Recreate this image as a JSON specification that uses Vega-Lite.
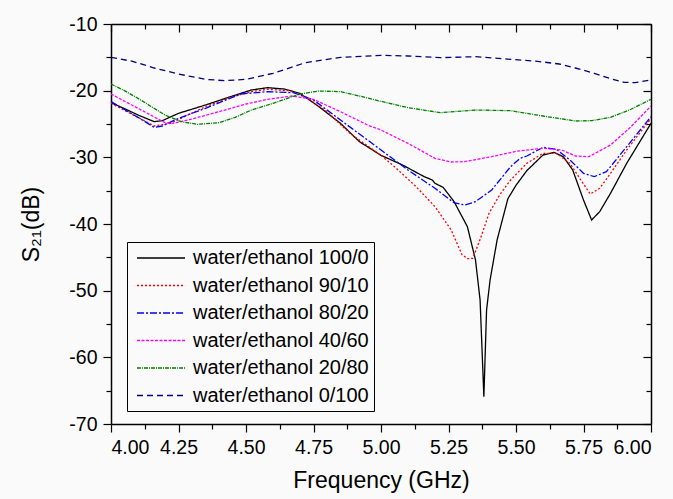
{
  "$schema": "https://vega.github.io/schema/vega-lite/v6.json",
  "autosize": {"type": "none"},
  "width": 540,
  "height": 400,
  "padding": {"left": 111, "top": 24, "right": 22, "bottom": 75},
  "background": "#fafafa",
  "config": {
    "font": "Liberation Sans",
    "view": {"stroke": null},
    "axis": {"grid": false, "domainColor": "#000000", "tickColor": "#000000", "labelColor": "#000000", "titleColor": "#000000", "domainWidth": 1.5, "tickWidth": 1.2, "labelFont": "Liberation Sans", "titleFont": "Liberation Sans", "titleFontWeight": "normal"}
  },
  "data": {"values": [
    {"s": "water/ethanol 100/0", "f": 4.00, "v": -21.8},
    {"s": "water/ethanol 100/0", "f": 4.05, "v": -22.7},
    {"s": "water/ethanol 100/0", "f": 4.10, "v": -23.65},
    {"s": "water/ethanol 100/0", "f": 4.16, "v": -24.65},
    {"s": "water/ethanol 100/0", "f": 4.19, "v": -24.5},
    {"s": "water/ethanol 100/0", "f": 4.25, "v": -23.4},
    {"s": "water/ethanol 100/0", "f": 4.35, "v": -22.15},
    {"s": "water/ethanol 100/0", "f": 4.45, "v": -20.8},
    {"s": "water/ethanol 100/0", "f": 4.52, "v": -19.9},
    {"s": "water/ethanol 100/0", "f": 4.58, "v": -19.55},
    {"s": "water/ethanol 100/0", "f": 4.64, "v": -19.75},
    {"s": "water/ethanol 100/0", "f": 4.70, "v": -20.4},
    {"s": "water/ethanol 100/0", "f": 4.77, "v": -22.4},
    {"s": "water/ethanol 100/0", "f": 4.85, "v": -24.9},
    {"s": "water/ethanol 100/0", "f": 4.92, "v": -27.65},
    {"s": "water/ethanol 100/0", "f": 5.00, "v": -29.7},
    {"s": "water/ethanol 100/0", "f": 5.08, "v": -31.15},
    {"s": "water/ethanol 100/0", "f": 5.16, "v": -32.9},
    {"s": "water/ethanol 100/0", "f": 5.19, "v": -33.4},
    {"s": "water/ethanol 100/0", "f": 5.20, "v": -33.9},
    {"s": "water/ethanol 100/0", "f": 5.23, "v": -34.5},
    {"s": "water/ethanol 100/0", "f": 5.27, "v": -36.6},
    {"s": "water/ethanol 100/0", "f": 5.32, "v": -40.4},
    {"s": "water/ethanol 100/0", "f": 5.35, "v": -45.4},
    {"s": "water/ethanol 100/0", "f": 5.367, "v": -51.4},
    {"s": "water/ethanol 100/0", "f": 5.381, "v": -65.9},
    {"s": "water/ethanol 100/0", "f": 5.391, "v": -52.9},
    {"s": "water/ethanol 100/0", "f": 5.404, "v": -48.4},
    {"s": "water/ethanol 100/0", "f": 5.43, "v": -42.4},
    {"s": "water/ethanol 100/0", "f": 5.47, "v": -36.2},
    {"s": "water/ethanol 100/0", "f": 5.50, "v": -34.2},
    {"s": "water/ethanol 100/0", "f": 5.54, "v": -32.0},
    {"s": "water/ethanol 100/0", "f": 5.60, "v": -29.65},
    {"s": "water/ethanol 100/0", "f": 5.64, "v": -29.25},
    {"s": "water/ethanol 100/0", "f": 5.675, "v": -29.9},
    {"s": "water/ethanol 100/0", "f": 5.71, "v": -31.9},
    {"s": "water/ethanol 100/0", "f": 5.75, "v": -36.4},
    {"s": "water/ethanol 100/0", "f": 5.78, "v": -39.4},
    {"s": "water/ethanol 100/0", "f": 5.81, "v": -38.15},
    {"s": "water/ethanol 100/0", "f": 5.85, "v": -35.4},
    {"s": "water/ethanol 100/0", "f": 5.91, "v": -30.9},
    {"s": "water/ethanol 100/0", "f": 6.00, "v": -24.9},

    {"s": "water/ethanol 90/10", "f": 4.00, "v": -21.9},
    {"s": "water/ethanol 90/10", "f": 4.10, "v": -24.0},
    {"s": "water/ethanol 90/10", "f": 4.16, "v": -25.3},
    {"s": "water/ethanol 90/10", "f": 4.22, "v": -24.9},
    {"s": "water/ethanol 90/10", "f": 4.35, "v": -22.4},
    {"s": "water/ethanol 90/10", "f": 4.45, "v": -20.9},
    {"s": "water/ethanol 90/10", "f": 4.52, "v": -20.15},
    {"s": "water/ethanol 90/10", "f": 4.58, "v": -19.8},
    {"s": "water/ethanol 90/10", "f": 4.66, "v": -20.0},
    {"s": "water/ethanol 90/10", "f": 4.72, "v": -20.9},
    {"s": "water/ethanol 90/10", "f": 4.80, "v": -23.15},
    {"s": "water/ethanol 90/10", "f": 4.885, "v": -26.4},
    {"s": "water/ethanol 90/10", "f": 5.00, "v": -29.7},
    {"s": "water/ethanol 90/10", "f": 5.05, "v": -31.4},
    {"s": "water/ethanol 90/10", "f": 5.13, "v": -34.4},
    {"s": "water/ethanol 90/10", "f": 5.20, "v": -37.4},
    {"s": "water/ethanol 90/10", "f": 5.26, "v": -40.9},
    {"s": "water/ethanol 90/10", "f": 5.30, "v": -44.6},
    {"s": "water/ethanol 90/10", "f": 5.32, "v": -45.2},
    {"s": "water/ethanol 90/10", "f": 5.34, "v": -45.15},
    {"s": "water/ethanol 90/10", "f": 5.37, "v": -42.0},
    {"s": "water/ethanol 90/10", "f": 5.40, "v": -38.4},
    {"s": "water/ethanol 90/10", "f": 5.44, "v": -35.6},
    {"s": "water/ethanol 90/10", "f": 5.48, "v": -33.4},
    {"s": "water/ethanol 90/10", "f": 5.54, "v": -30.9},
    {"s": "water/ethanol 90/10", "f": 5.60, "v": -29.4},
    {"s": "water/ethanol 90/10", "f": 5.65, "v": -29.4},
    {"s": "water/ethanol 90/10", "f": 5.70, "v": -30.9},
    {"s": "water/ethanol 90/10", "f": 5.74, "v": -33.4},
    {"s": "water/ethanol 90/10", "f": 5.775, "v": -35.5},
    {"s": "water/ethanol 90/10", "f": 5.81, "v": -34.65},
    {"s": "water/ethanol 90/10", "f": 5.85, "v": -32.4},
    {"s": "water/ethanol 90/10", "f": 5.91, "v": -28.9},
    {"s": "water/ethanol 90/10", "f": 6.00, "v": -24.15},

    {"s": "water/ethanol 80/20", "f": 4.00, "v": -21.65},
    {"s": "water/ethanol 80/20", "f": 4.10, "v": -24.0},
    {"s": "water/ethanol 80/20", "f": 4.16, "v": -25.5},
    {"s": "water/ethanol 80/20", "f": 4.19, "v": -25.3},
    {"s": "water/ethanol 80/20", "f": 4.25, "v": -24.15},
    {"s": "water/ethanol 80/20", "f": 4.35, "v": -22.65},
    {"s": "water/ethanol 80/20", "f": 4.48, "v": -20.5},
    {"s": "water/ethanol 80/20", "f": 4.58, "v": -20.15},
    {"s": "water/ethanol 80/20", "f": 4.675, "v": -20.3},
    {"s": "water/ethanol 80/20", "f": 4.75, "v": -21.4},
    {"s": "water/ethanol 80/20", "f": 4.85, "v": -24.4},
    {"s": "water/ethanol 80/20", "f": 4.95, "v": -27.4},
    {"s": "water/ethanol 80/20", "f": 5.00, "v": -28.9},
    {"s": "water/ethanol 80/20", "f": 5.10, "v": -31.9},
    {"s": "water/ethanol 80/20", "f": 5.20, "v": -34.65},
    {"s": "water/ethanol 80/20", "f": 5.27, "v": -36.8},
    {"s": "water/ethanol 80/20", "f": 5.31, "v": -37.15},
    {"s": "water/ethanol 80/20", "f": 5.35, "v": -36.65},
    {"s": "water/ethanol 80/20", "f": 5.41, "v": -34.9},
    {"s": "water/ethanol 80/20", "f": 5.48, "v": -31.4},
    {"s": "water/ethanol 80/20", "f": 5.515, "v": -30.15},
    {"s": "water/ethanol 80/20", "f": 5.54, "v": -29.8},
    {"s": "water/ethanol 80/20", "f": 5.60, "v": -28.5},
    {"s": "water/ethanol 80/20", "f": 5.65, "v": -28.8},
    {"s": "water/ethanol 80/20", "f": 5.70, "v": -30.4},
    {"s": "water/ethanol 80/20", "f": 5.75, "v": -32.4},
    {"s": "water/ethanol 80/20", "f": 5.79, "v": -32.9},
    {"s": "water/ethanol 80/20", "f": 5.835, "v": -32.15},
    {"s": "water/ethanol 80/20", "f": 5.91, "v": -28.4},
    {"s": "water/ethanol 80/20", "f": 6.00, "v": -23.9},

    {"s": "water/ethanol 40/60", "f": 4.00, "v": -20.5},
    {"s": "water/ethanol 40/60", "f": 4.10, "v": -22.65},
    {"s": "water/ethanol 40/60", "f": 4.20, "v": -24.8},
    {"s": "water/ethanol 40/60", "f": 4.23, "v": -24.9},
    {"s": "water/ethanol 40/60", "f": 4.30, "v": -24.25},
    {"s": "water/ethanol 40/60", "f": 4.40, "v": -23.15},
    {"s": "water/ethanol 40/60", "f": 4.50, "v": -22.0},
    {"s": "water/ethanol 40/60", "f": 4.58, "v": -21.3},
    {"s": "water/ethanol 40/60", "f": 4.67, "v": -20.8},
    {"s": "water/ethanol 40/60", "f": 4.75, "v": -21.3},
    {"s": "water/ethanol 40/60", "f": 4.85, "v": -23.15},
    {"s": "water/ethanol 40/60", "f": 4.95, "v": -25.15},
    {"s": "water/ethanol 40/60", "f": 5.00, "v": -25.9},
    {"s": "water/ethanol 40/60", "f": 5.10, "v": -27.9},
    {"s": "water/ethanol 40/60", "f": 5.20, "v": -30.15},
    {"s": "water/ethanol 40/60", "f": 5.26, "v": -30.7},
    {"s": "water/ethanol 40/60", "f": 5.31, "v": -30.65},
    {"s": "water/ethanol 40/60", "f": 5.41, "v": -29.9},
    {"s": "water/ethanol 40/60", "f": 5.50, "v": -29.1},
    {"s": "water/ethanol 40/60", "f": 5.60, "v": -28.65},
    {"s": "water/ethanol 40/60", "f": 5.67, "v": -28.9},
    {"s": "water/ethanol 40/60", "f": 5.72, "v": -29.8},
    {"s": "water/ethanol 40/60", "f": 5.77, "v": -29.9},
    {"s": "water/ethanol 40/60", "f": 5.85, "v": -28.15},
    {"s": "water/ethanol 40/60", "f": 5.92, "v": -25.65},
    {"s": "water/ethanol 40/60", "f": 6.00, "v": -22.3},

    {"s": "water/ethanol 20/80", "f": 4.00, "v": -19.0},
    {"s": "water/ethanol 20/80", "f": 4.05, "v": -20.0},
    {"s": "water/ethanol 20/80", "f": 4.10, "v": -21.15},
    {"s": "water/ethanol 20/80", "f": 4.15, "v": -22.4},
    {"s": "water/ethanol 20/80", "f": 4.20, "v": -23.65},
    {"s": "water/ethanol 20/80", "f": 4.26, "v": -24.65},
    {"s": "water/ethanol 20/80", "f": 4.32, "v": -25.05},
    {"s": "water/ethanol 20/80", "f": 4.40, "v": -24.8},
    {"s": "water/ethanol 20/80", "f": 4.46, "v": -24.0},
    {"s": "water/ethanol 20/80", "f": 4.52, "v": -22.9},
    {"s": "water/ethanol 20/80", "f": 4.60, "v": -21.9},
    {"s": "water/ethanol 20/80", "f": 4.70, "v": -20.5},
    {"s": "water/ethanol 20/80", "f": 4.77, "v": -20.05},
    {"s": "water/ethanol 20/80", "f": 4.85, "v": -20.15},
    {"s": "water/ethanol 20/80", "f": 4.92, "v": -20.8},
    {"s": "water/ethanol 20/80", "f": 5.00, "v": -21.6},
    {"s": "water/ethanol 20/80", "f": 5.10, "v": -22.55},
    {"s": "water/ethanol 20/80", "f": 5.22, "v": -23.3},
    {"s": "water/ethanol 20/80", "f": 5.35, "v": -22.9},
    {"s": "water/ethanol 20/80", "f": 5.48, "v": -23.0},
    {"s": "water/ethanol 20/80", "f": 5.60, "v": -23.8},
    {"s": "water/ethanol 20/80", "f": 5.72, "v": -24.55},
    {"s": "water/ethanol 20/80", "f": 5.78, "v": -24.5},
    {"s": "water/ethanol 20/80", "f": 5.85, "v": -24.0},
    {"s": "water/ethanol 20/80", "f": 5.92, "v": -22.9},
    {"s": "water/ethanol 20/80", "f": 6.00, "v": -21.3},

    {"s": "water/ethanol 0/100", "f": 4.00, "v": -15.0},
    {"s": "water/ethanol 0/100", "f": 4.08, "v": -15.6},
    {"s": "water/ethanol 0/100", "f": 4.16, "v": -16.6},
    {"s": "water/ethanol 0/100", "f": 4.25, "v": -17.5},
    {"s": "water/ethanol 0/100", "f": 4.35, "v": -18.3},
    {"s": "water/ethanol 0/100", "f": 4.42, "v": -18.5},
    {"s": "water/ethanol 0/100", "f": 4.50, "v": -18.3},
    {"s": "water/ethanol 0/100", "f": 4.60, "v": -17.4},
    {"s": "water/ethanol 0/100", "f": 4.72, "v": -15.8},
    {"s": "water/ethanol 0/100", "f": 4.85, "v": -15.0},
    {"s": "water/ethanol 0/100", "f": 5.00, "v": -14.7},
    {"s": "water/ethanol 0/100", "f": 5.10, "v": -14.8},
    {"s": "water/ethanol 0/100", "f": 5.22, "v": -15.05},
    {"s": "water/ethanol 0/100", "f": 5.35, "v": -14.9},
    {"s": "water/ethanol 0/100", "f": 5.48, "v": -15.3},
    {"s": "water/ethanol 0/100", "f": 5.58, "v": -15.6},
    {"s": "water/ethanol 0/100", "f": 5.66, "v": -16.0},
    {"s": "water/ethanol 0/100", "f": 5.72, "v": -16.6},
    {"s": "water/ethanol 0/100", "f": 5.79, "v": -17.4},
    {"s": "water/ethanol 0/100", "f": 5.85, "v": -18.2},
    {"s": "water/ethanol 0/100", "f": 5.90, "v": -18.75},
    {"s": "water/ethanol 0/100", "f": 5.94, "v": -18.8},
    {"s": "water/ethanol 0/100", "f": 6.00, "v": -18.4}
  ]},
  "resolve": {"axis": {"x": "independent", "y": "independent"}},
  "layer": [
    {
      "mark": {"type": "line", "strokeOpacity": 0},
      "encoding": {
        "x": {"field": "f", "type": "quantitative", "scale": {"domain": [4, 6], "nice": false, "zero": false},
          "axis": {"orient": "bottom", "values": [4.125, 4.375, 4.625, 4.875, 5.125, 5.375, 5.625, 5.875], "labels": false, "domain": false, "tickSize": 5, "title": null}},
        "y": {"field": "v", "type": "quantitative", "scale": {"domain": [-70, -10], "nice": false, "zero": false},
          "axis": {"orient": "left", "values": [-65, -55, -45, -35, -25, -15], "labels": false, "domain": false, "tickSize": 5, "title": null}},
        "detail": {"field": "s"}
      }
    },
    {
      "mark": {"type": "line", "strokeOpacity": 0},
      "encoding": {
        "x": {"field": "f", "type": "quantitative", "scale": {"domain": [4, 6], "nice": false, "zero": false},
          "axis": {"orient": "top", "values": [4, 4.25, 4.5, 4.75, 5, 5.25, 5.5, 5.75, 6], "labels": false, "domain": true, "tickSize": -8, "title": null}},
        "y": {"field": "v", "type": "quantitative", "scale": {"domain": [-70, -10], "nice": false, "zero": false},
          "axis": {"orient": "right", "values": [-70, -60, -50, -40, -30, -20, -10], "labels": false, "domain": true, "tickSize": -8, "title": null}},
        "detail": {"field": "s"}
      }
    },
    {
      "mark": {"type": "line", "strokeOpacity": 0},
      "encoding": {
        "x": {"field": "f", "type": "quantitative", "scale": {"domain": [4, 6], "nice": false, "zero": false},
          "axis": {"orient": "top", "values": [4.125, 4.375, 4.625, 4.875, 5.125, 5.375, 5.625, 5.875], "labels": false, "domain": false, "tickSize": -5, "title": null}},
        "y": {"field": "v", "type": "quantitative", "scale": {"domain": [-70, -10], "nice": false, "zero": false},
          "axis": {"orient": "right", "values": [-65, -55, -45, -35, -25, -15], "labels": false, "domain": false, "tickSize": -5, "title": null}},
        "detail": {"field": "s"}
      }
    },
    {
      "mark": {"type": "line", "strokeWidth": 1.3, "clip": true},
      "encoding": {
        "x": {"field": "f", "type": "quantitative", "scale": {"domain": [4, 6], "nice": false, "zero": false},
          "axis": {"orient": "bottom", "values": [4, 4.25, 4.5, 4.75, 5, 5.25, 5.5, 5.75, 6], "format": ".2f", "tickSize": 8, "labelFontSize": 19.5, "labelPadding": 6, "title": "Frequency (GHz)", "titleFontSize": 23, "titlePadding": 13}},
        "y": {"field": "v", "type": "quantitative", "scale": {"domain": [-70, -10], "nice": false, "zero": false},
          "axis": {"orient": "left", "values": [-70, -60, -50, -40, -30, -20, -10], "labelExpr": "'' + datum.value", "tickSize": 8, "labelFontSize": 19.5, "labelPadding": 6, "title": "S₂₁(dB)", "titleFontSize": 23, "titlePadding": 25}},
        "color": {"field": "s", "type": "nominal",
          "scale": {"domain": ["water/ethanol 100/0", "water/ethanol 90/10", "water/ethanol 80/20", "water/ethanol 40/60", "water/ethanol 20/80", "water/ethanol 0/100"],
                    "range": ["#000000", "#ff0000", "#0000ff", "#ff00ff", "#008000", "#000080"]},
          "legend": {"orient": "none", "legendX": 16, "legendY": 218, "title": null, "symbolType": "M-1,0H3.8", "symbolSize": 400, "symbolStrokeWidth": 1.5, "symbolOffset": 4, "labelFontSize": 20, "labelLimit": 400, "labelColor": "#000000", "labelOffset": 35, "rowPadding": 6.5, "padding": 5, "strokeColor": "#000000", "fillColor": null}},
        "strokeDash": {"field": "s", "type": "nominal",
          "scale": {"domain": ["water/ethanol 100/0", "water/ethanol 90/10", "water/ethanol 80/20", "water/ethanol 40/60", "water/ethanol 20/80", "water/ethanol 0/100"],
                    "range": [[1, 0], [2, 2], [7, 2, 2, 2], [3, 1.5], [4, 1, 1, 1], [6, 4]]}}
      }
    }
  ]
}
